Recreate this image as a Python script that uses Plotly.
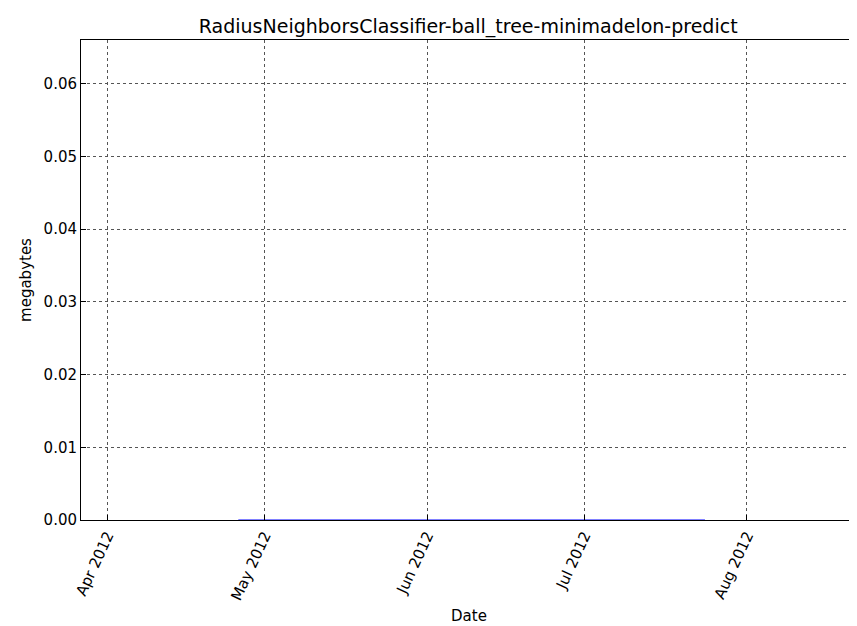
import plotly.graph_objects as go

# data: memory usage stays at zero over the period
dates = ['2012-04-26', '2012-05-15', '2012-06-05', '2012-06-25', '2012-07-10', '2012-07-24']
values = [0, 0, 0, 0, 0, 0]
tick_vals = ['2012-04-01', '2012-05-01', '2012-06-01', '2012-07-01', '2012-08-01']
tick_text = ['Apr 2012', 'May 2012', 'Jun 2012', 'Jul 2012', 'Aug 2012']

fig = go.Figure()
fig.add_trace(go.Scatter(x=dates, y=values, mode='lines',
                         line=dict(color='#0000ff', width=1), showlegend=False))

axis_common = dict(showline=True, linecolor='black', linewidth=1, mirror=True,
                   ticks='inside', ticklen=5, tickcolor='black', automargin=False,
                   showgrid=True, gridcolor='#555555', griddash='dot', gridwidth=1,
                   zeroline=False, tickfont=dict(size=15, color='black'))

fig.update_layout(
    width=857, height=626,
    plot_bgcolor='white', paper_bgcolor='white',
    font=dict(family='DejaVu Sans', color='black'),
    title=dict(text='RadiusNeighborsClassifier-ball_tree-minimadelon-predict',
               x=0.537, xanchor='center', y=0.97, yanchor='middle', font=dict(size=19)),
    margin=dict(l=73, r=8, t=32, b=114),
    xaxis=dict(range=['2012-03-27', '2012-08-22'], tickvals=tick_vals, ticktext=tick_text,
               tickangle=-65, title=dict(text='Date', font=dict(size=15), standoff=8), **axis_common),
    yaxis=dict(range=[0, 0.066], tickvals=[0, 0.01, 0.02, 0.03, 0.04, 0.05, 0.06],
               tickformat='.2f', title=dict(text='megabytes', font=dict(size=15), standoff=8),
               **axis_common),
)

fig.write_html("out.html")
